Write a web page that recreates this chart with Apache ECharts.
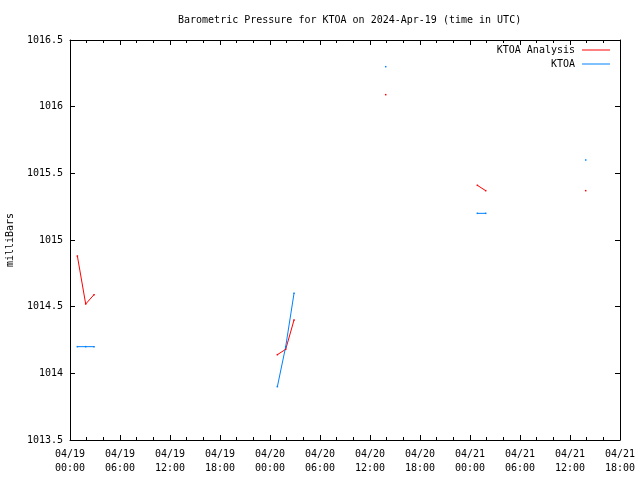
<!DOCTYPE html>
<html>
<head>
<meta charset="utf-8">
<script src="https://cdn.jsdelivr.net/npm/echarts@6/dist/echarts.min.js"></script>
<style>html,body{margin:0;padding:0;background:#fff}#c{width:640px;height:480px}</style>
</head>
<body>
<div id="c"></div>
<script>
// Observation times (UTC); null marks a gap in the record
var times = ['2024-04-19 00:53','2024-04-19 01:53','2024-04-19 02:53', null,
             '2024-04-20 00:53','2024-04-20 01:53','2024-04-20 02:53', null,
             '2024-04-20 13:53', null,
             '2024-04-21 00:53','2024-04-21 01:53', null,
             '2024-04-21 13:53'];
var analysis = [1014.88, 1014.52, 1014.59, null,
                1014.14, 1014.18, 1014.40, null,
                1016.09, null,
                1015.41, 1015.37, null,
                1015.37];
var observed = [1014.2, 1014.2, 1014.2, null,
                1013.9, 1014.2, 1014.6, null,
                1016.3, null,
                1015.2, 1015.2, null,
                1015.6];
var tickLabels = ['04/19\n00:00','04/19\n06:00','04/19\n12:00','04/19\n18:00',
                  '04/20\n00:00','04/20\n06:00','04/20\n12:00','04/20\n18:00',
                  '04/21\n00:00','04/21\n06:00','04/21\n12:00','04/21\n18:00'];
var seriesNames = ['KTOA Analysis', 'KTOA'];
var titleText = 'Barometric Pressure for KTOA on 2024-Apr-19 (time in UTC)';

var start = Date.UTC(2024, 3, 19, 0, 0);
function hours(s) {
  var p = s.split(/[- :]/);
  return (Date.UTC(+p[0], +p[1] - 1, +p[2], +p[3], +p[4]) - start) / 3600000;
}
function build(vals) {
  var out = [];
  var last = 0;
  for (var i = 0; i < times.length; i++) {
    if (times[i] === null || vals[i] === null) {
      out.push([last + 0.5, null]);
    } else {
      last = hours(times[i]);
      out.push([last, vals[i]]);
    }
  }
  return out;
}

var font = 'DejaVu Sans Mono';
var chart = echarts.init(document.getElementById('c'), null, {renderer: 'canvas'});
var axisLine = {show: true, onZero: false, lineStyle: {color: '#000', width: 1}};
var tick = {show: true, inside: true, length: 5, lineStyle: {color: '#000', width: 1}};
chart.setOption({
  animation: false,
  backgroundColor: '#fff',
  title: {
    text: titleText, left: 173, top: 10,
    textStyle: {fontFamily: font, fontSize: 10, fontWeight: 'normal', color: '#000'}
  },
  legend: {
    orient: 'vertical', right: 25, top: 39, align: 'right',
    itemWidth: 28, itemHeight: 1, itemGap: 2,
    data: [{name: seriesNames[0], icon: 'rect'}, {name: seriesNames[1], icon: 'rect'}],
    textStyle: {fontFamily: font, fontSize: 10, color: '#000', lineHeight: 12, padding: [0, 2, 0, 0]}
  },
  grid: {left: 70, right: 20, top: 40, bottom: 40, containLabel: false, outerBoundsMode: 'none'},
  xAxis: [{
    type: 'value', min: 0, max: 66, interval: 6, position: 'bottom',
    axisLine: axisLine, axisTick: tick,
    minorTick: {show: true, splitNumber: 3, length: 3, lineStyle: {color: '#000'}},
    splitLine: {show: false}, minorSplitLine: {show: false},
    axisLabel: {
      fontFamily: font, fontSize: 10, color: '#000', margin: 7, lineHeight: 14,
      formatter: function (v) { return tickLabels[Math.round(v / 6)]; }
    }
  }, {
    type: 'value', min: 0, max: 66, interval: 6, position: 'top',
    axisLine: axisLine, axisTick: tick,
    minorTick: {show: true, splitNumber: 3, length: 3, lineStyle: {color: '#000'}},
    splitLine: {show: false}, axisLabel: {show: false}
  }],
  yAxis: [{
    type: 'value', min: 1013.5, max: 1016.5, interval: 0.5, position: 'left',
    name: 'milliBars', nameLocation: 'middle', nameGap: 55, nameRotate: 90,
    nameTextStyle: {fontFamily: font, fontSize: 10, color: '#000'},
    axisLine: axisLine, axisTick: tick,
    splitLine: {show: false},
    axisLabel: {
      fontFamily: font, fontSize: 10, color: '#000', margin: 7,
      formatter: function (v) { return String(+v.toFixed(1)); }
    }
  }, {
    type: 'value', min: 1013.5, max: 1016.5, interval: 0.5, position: 'right',
    axisLine: axisLine, axisTick: tick,
    splitLine: {show: false}, axisLabel: {show: false}
  }],
  series: [{
    name: seriesNames[0], type: 'line', data: build(analysis),
    xAxisIndex: 0, yAxisIndex: 0,
    connectNulls: false, showSymbol: true, showAllSymbol: true,
    symbol: 'rect', symbolSize: 1.5,
    lineStyle: {color: '#ff0000', width: 1}, itemStyle: {color: '#ff0000'}
  }, {
    name: seriesNames[1], type: 'line', data: build(observed),
    xAxisIndex: 0, yAxisIndex: 0,
    connectNulls: false, showSymbol: true, showAllSymbol: true,
    symbol: 'rect', symbolSize: 1.5,
    lineStyle: {color: '#0080ff', width: 1}, itemStyle: {color: '#0080ff'}
  }]
});
</script>
</body>
</html>
